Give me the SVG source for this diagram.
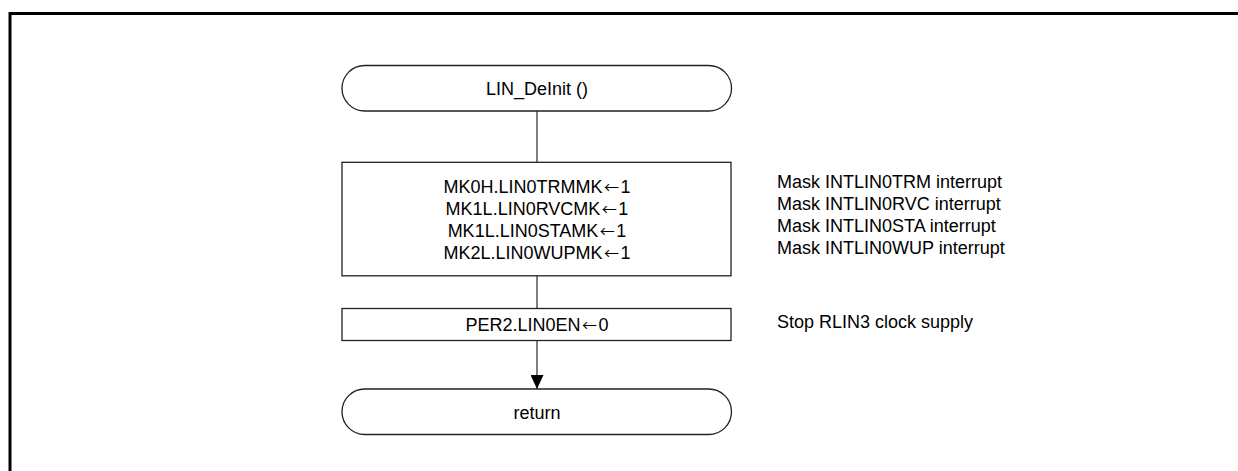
<svg xmlns="http://www.w3.org/2000/svg" width="1238" height="471" viewBox="0 0 1238 471">
<style>
.shape{fill:#fff;stroke:#222;stroke-width:1.3}
.conn{fill:none;stroke:#555;stroke-width:1.5}
text{font-family:"Liberation Sans",Arial,sans-serif;font-size:18px;fill:#000}
.c{text-anchor:middle}
.ar{font-family:"Noto Sans CJK JP","Liberation Sans",sans-serif;font-size:15px}
</style>
<defs>
<marker id="arrow" markerUnits="userSpaceOnUse" markerWidth="14" markerHeight="13" refX="14" refY="6.5" orient="auto" viewBox="0 0 14 13">
<path d="M0,0 L14,6.5 L0,13 Z" fill="#000"/>
</marker>
</defs>
<rect width="1238" height="471" fill="#fff"/>
<path d="M10,471 V13.5 H1238" fill="none" stroke="#000" stroke-width="3"/>
<g id="connectors">
<line class="conn" x1="537" y1="111" x2="537" y2="162"/>
<line class="conn" x1="537" y1="276" x2="537" y2="308.5"/>
<path class="conn" d="M537,340.5 V389" marker-end="url(#arrow)"/>
</g>
<g id="start">
<rect class="shape" x="342" y="65.5" width="389.5" height="45.5" rx="22.75"/>
<text class="c" x="537" y="94.5">LIN_DeInit ()</text>
</g>
<g id="mask">
<rect class="shape" x="342" y="162.3" width="389" height="113.5"/>
<text class="c" x="537" y="193">MK0H.LIN0TRMMK<tspan class="ar" dx="1.5">←</tspan><tspan dx="1.5">1</tspan></text>
<text class="c" x="537" y="215">MK1L.LIN0RVCMK<tspan class="ar" dx="1.5">←</tspan><tspan dx="1.5">1</tspan></text>
<text class="c" x="537" y="237">MK1L.LIN0STAMK<tspan class="ar" dx="1.5">←</tspan><tspan dx="1.5">1</tspan></text>
<text class="c" x="537" y="259">MK2L.LIN0WUPMK<tspan class="ar" dx="1.5">←</tspan><tspan dx="1.5">1</tspan></text>
</g>
<g id="mask-note">
<text x="777" y="188">Mask INTLIN0TRM interrupt</text>
<text x="777" y="210">Mask INTLIN0RVC interrupt</text>
<text x="777" y="232">Mask INTLIN0STA interrupt</text>
<text x="777" y="254">Mask INTLIN0WUP interrupt</text>
</g>
<g id="per2">
<rect class="shape" x="342" y="308.5" width="389" height="32"/>
<text class="c" x="537" y="331">PER2.LIN0EN<tspan class="ar" dx="1.5">←</tspan><tspan dx="1.5">0</tspan></text>
</g>
<g id="per2-note">
<text x="777" y="327.5">Stop RLIN3 clock supply</text>
</g>
<g id="return">
<rect class="shape" x="342" y="389" width="389.5" height="45.5" rx="22.75"/>
<text class="c" x="537" y="418.5">return</text>
</g>
</svg>
